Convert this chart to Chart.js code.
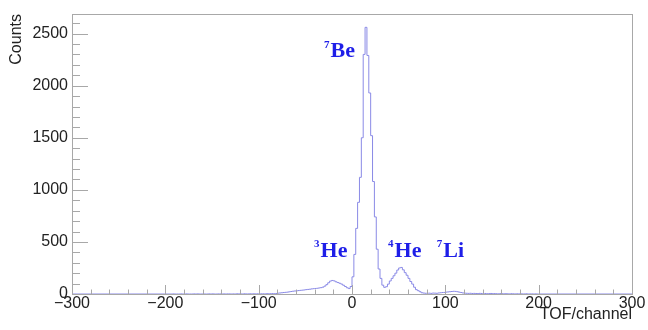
<!DOCTYPE html>
<html>
<head>
<meta charset="utf-8">
<script src="https://cdn.jsdelivr.net/npm/chart.js@4.4.1/dist/chart.umd.min.js"></script>
<style>
  html, body { margin: 0; padding: 0; background: #fff; }
  #wrap { width: 648px; height: 330px; }
</style>
</head>
<body>
<div id="wrap"><canvas id="tof"></canvas></div>
<script>
// histogram: bins of 2 channels starting at -200
const binStart = -200;
const binWidth = 2;
const counts = [
    // -200 .. -102
    0,0,0,0,1,0,0,0,1,0, 0,1,0,0,0,1,0,1,0,0, 1,0,0,1,0,1,0,0,1,1, 0,1,0,1,1,0,1,0,2,1, 1,0,2,1,1,2,1,2,1,2,
    // -100 .. -82
    1,2,2,1,3,2,3,4,3,5,
    // -80 .. -62
    8,10,12,14,16,18,21,24,27,29,
    // -60 .. -42
    31,33,35,37,39,42,44,46,49,51,
    // -40 .. -22
    53,55,58,61,66,76,90,108,124,130,
    // -20 .. -2
    126,117,110,103,95,84,72,60,52,72,
    // 0 .. 18
    165,380,630,880,1120,1500,2300,2560,2290,1930,
    // 20 .. 38
    1520,1080,740,430,240,150,85,64,70,95,
    // 40 .. 58
    125,150,175,200,230,250,255,232,205,180,
    // 60 .. 78
    150,120,95,65,42,32,22,12,9,7,
    // 80 .. 98
    7,8,6,9,8,7,10,12,14,15,
    // 100 .. 118
    18,20,22,24,26,25,22,18,14,10,
    // 120 .. 138
    8,7,6,7,5,6,5,4,6,5,
    // 140 .. 158
    4,5,3,4,5,3,4,3,2,4,
    // 160 .. 178
    3,2,3,2,1,3,2,1,2,1,
    // 180 .. 198
    2,1,1,2,0,1,1,0,1,0
];

const xTicks = [-300, -200, -100, 0, 100, 200, 300];
const xTickLabels = ["\u2212300", "\u2212200", "\u2212100", "0", "100", "200", "300"];
const yTicks = [0, 500, 1000, 1500, 2000, 2500];
const yTickLabels = ["0", "500", "1000", "1500", "2000", "2500"];

// peak names: mass number, element, anchor (channel, counts)
const peakMass = ["7", "3", "4", "7"];
const peakName = ["Be", "He", "He", "Li"];
const peakAtX = [-30, -40.7, 38.6, 90.8];
const peakAtY = [2272, 356, 356, 356];

// build step points from bin edges
const points = [{ x: -300, y: 0 }];
counts.forEach((c, i) => points.push({ x: binStart + i * binWidth, y: c }));
points.push({ x: binStart + counts.length * binWidth, y: 0 });
points.push({ x: 300, y: 0 });

const axisFont = { family: "'Liberation Sans', Arial, sans-serif", size: 16 };

// frame + inward ticks (ROOT look) and peak labels
const rootStyle = {
    id: "rootStyle",
    afterDraw(chart) {
        const ctx = chart.ctx;
        const a = chart.chartArea;
        const xs = chart.scales.x, ys = chart.scales.y;
        ctx.save();
        ctx.strokeStyle = "#a8a8a8";
        ctx.lineWidth = 1;
        ctx.strokeRect(Math.round(a.left) + 0.5, Math.round(a.top) + 0.5,
                       Math.round(a.right - a.left), Math.round(a.bottom - a.top));
        ctx.beginPath();
        for (let v = -300; v <= 300; v += 20) {
            const px = Math.round(xs.getPixelForValue(v)) + 0.5;
            const len = (v % 100 === 0) ? 9 : 4.5;
            ctx.moveTo(px, a.bottom);
            ctx.lineTo(px, a.bottom - len);
        }
        for (let v = 0; v <= 2600; v += 100) {
            const py = Math.round(ys.getPixelForValue(v)) + 0.5;
            const len = (v % 500 === 0) ? 16 : 8;
            ctx.moveTo(a.left, py);
            ctx.lineTo(a.left + len, py);
        }
        ctx.stroke();

        // peak labels
        ctx.fillStyle = "#1e1ee8";
        ctx.textBaseline = "alphabetic";
        ctx.textAlign = "left";
        peakName.forEach((name, i) => {
            const px = xs.getPixelForValue(peakAtX[i]);
            const py = ys.getPixelForValue(peakAtY[i]);
            ctx.font = "bold 11px 'Liberation Serif', 'Times New Roman', serif";
            ctx.fillText(peakMass[i], px, py - 9.5);
            const w = ctx.measureText(peakMass[i]).width;
            ctx.font = "bold 22px 'Liberation Serif', 'Times New Roman', serif";
            ctx.fillText(name, px + w + 1, py);
        });
        ctx.restore();
    }
};

new Chart(document.getElementById("tof"), {
    type: "line",
    data: {
        datasets: [{
            data: points,
            stepped: "before",
            borderColor: "rgb(138,138,230)",
            borderWidth: 1,
            pointRadius: 0,
            fill: false
        }]
    },
    options: {
        responsive: true,
        maintainAspectRatio: false,
        animation: false,
        layout: { padding: { top: 14, right: 16, left: 0, bottom: 0 } },
        plugins: { legend: { display: false }, tooltip: { enabled: false } },
        scales: {
            x: {
                type: "linear",
                min: -300,
                max: 300,
                grid: { display: false, drawTicks: false },
                border: { display: false },
                afterBuildTicks: s => { s.ticks = xTicks.map(v => ({ value: v })); },
                afterFit: s => { s.height = 36; },
                ticks: {
                    color: "#222",
                    font: axisFont,
                    padding: 0,
                    maxRotation: 0,
                    autoSkip: false,
                    callback: v => xTickLabels[xTicks.indexOf(v)]
                },
                title: {
                    display: true,
                    text: "TOF/channel",
                    align: "end",
                    color: "#222",
                    font: axisFont,
                    padding: { top: 0, bottom: 6 }
                }
            },
            y: {
                min: 0,
                max: 2688,
                grid: { display: false, drawTicks: false },
                border: { display: false },
                afterBuildTicks: s => { s.ticks = yTicks.map(v => ({ value: v })); },
                afterFit: s => { s.width = 72; },
                ticks: {
                    color: "#222",
                    font: axisFont,
                    padding: 4,
                    autoSkip: false,
                    callback: v => yTickLabels[yTicks.indexOf(v)]
                },
                title: {
                    display: true,
                    text: "Counts",
                    align: "end",
                    color: "#222",
                    font: axisFont,
                    padding: { top: 7, bottom: 0 }
                }
            }
        }
    },
    plugins: [rootStyle]
});
</script>
</body>
</html>
